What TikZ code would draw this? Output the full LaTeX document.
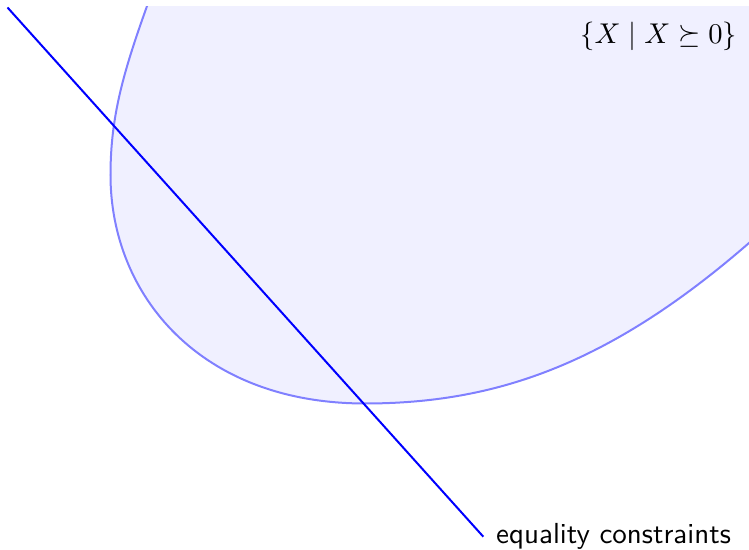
\documentclass[tikz,border=0pt]{standalone}
\usepackage{amssymb}
\begin{document}
\begin{tikzpicture}[x=0.35pt,y=-0.35pt,
  blobfill/.style={fill=blue!6},
  blobline/.style={draw=blue!50,line width=0.7pt},
  eqline/.style={draw=blue,line width=0.7pt},
  lbl/.style={font=\sffamily}]
\useasboundingbox (0,0) rectangle (749,550);
\def\blobpath{(151.7,-7) -- (149.2,0)
  .. controls (124,70) and (110.5,115) .. (110.5,175)
  .. controls (110.5,295) and (200,403.5) .. (365,403.5)
  .. controls (495,403.5) and (609,364.8) .. (749,243)
  -- (800,199)}
\begin{scope}
  \clip (0,7) rectangle (749,550);
  \fill[blobfill] \blobpath -- (800,-7) -- cycle;
  \draw[blobline] \blobpath;
\end{scope}
\node[anchor=north east] (set) at (747,12) {$\{X\mid X\succeq 0\}$};
\coordinate (s) at (7.5,7.5);
\coordinate (e) at (483.3,536.7);
\draw[eqline] (s) -- (e);
\node[lbl,anchor=west,xshift=1pt] (eq) at (e) {\fontsize{10.15}{12}\selectfont equality constraints};
\end{tikzpicture}
\end{document}
